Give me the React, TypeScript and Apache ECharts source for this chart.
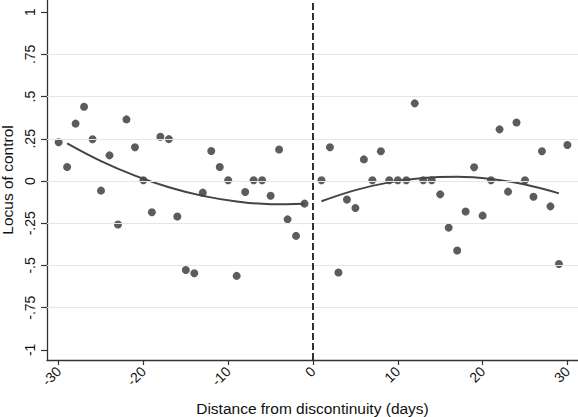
import React, { useEffect, useRef } from "react";
import * as echarts from "echarts";

const leftDays = [-30, -29, -28, -27, -26, -25, -24, -23, -22, -21, -20, -19, -18, -17, -16, -15, -14, -13, -12, -11, -10, -9, -8, -7, -6, -5, -4, -3, -2, -1];
const leftValues = [0.23, 0.083, 0.34, 0.44, 0.247, -0.057, 0.152, -0.258, 0.365, 0.2, 0.005, -0.185, 0.262, 0.248, -0.21, -0.527, -0.546, -0.069, 0.178, 0.083, 0.005, -0.562, -0.065, 0.005, 0.005, -0.087, 0.187, -0.227, -0.325, -0.134];
const rightDays = [1, 2, 3, 4, 5, 6, 7, 8, 9, 10, 11, 12, 13, 14, 15, 16, 17, 18, 19, 20, 21, 22, 23, 24, 25, 26, 27, 28, 29, 30];
const rightValues = [0.005, 0.2, -0.542, -0.11, -0.16, 0.128, 0.005, 0.176, 0.005, 0.005, 0.005, 0.46, 0.005, 0.005, -0.079, -0.276, -0.412, -0.181, 0.081, -0.205, 0.005, 0.306, -0.063, 0.347, 0.005, -0.093, 0.176, -0.15, -0.491, 0.213];

const fitLeftDays = [-29, -25, -21, -17, -13, -9, -5, -1];
const fitLeftValues = [0.223, 0.118, 0.032, -0.037, -0.088, -0.121, -0.137, -0.134];
const fitRightDays = [1, 5, 9, 13, 17, 21, 25, 29];
const fitRightValues = [-0.12, -0.054, -0.008, 0.018, 0.025, 0.012, -0.021, -0.073];

const xTicks = [-30, -20, -10, 0, 10, 20, 30];
const yTicks = [-1, -0.75, -0.5, -0.25, 0, 0.25, 0.5, 0.75, 1];
const yGridValues = [-0.75, -0.5, -0.25, 0, 0.25, 0.5, 0.75];

const fmtY = (v: number) => {
  if (v === 0) return "0";
  const s = String(v);
  return s.replace("0.", ".");
};

export default function App() {
  const ref = useRef<HTMLDivElement>(null);
  useEffect(() => {
    if (!ref.current) return;
    const chart = echarts.init(ref.current, undefined, { renderer: "svg" });
    const font = "'Liberation Sans', Arial, sans-serif";
    const axisColor = "#333";
    chart.setOption({
      animation: false,
      backgroundColor: "#fff",
      grid: { left: 47, right: 0, top: 0, bottom: 57, containLabel: false, outerBoundsMode: "none" },
      xAxis: {
        type: "value",
        min: -31.37,
        max: 31.25,
        name: "Distance from discontinuity (days)",
        nameLocation: "middle",
        nameGap: 40,
        nameTextStyle: { fontFamily: font, fontSize: 15.5, color: "#111" },
        axisLine: { show: true, onZero: false, lineStyle: { color: axisColor, width: 1.3 } },
        axisTick: { show: true, length: 5, customValues: xTicks, lineStyle: { color: axisColor, width: 1.2 } },
        axisLabel: {
          customValues: xTicks,
          rotate: 45,
          margin: 9,
          fontFamily: font,
          fontSize: 14,
          color: "#111",
        },
        splitLine: { show: false },
      },
      yAxis: {
        type: "value",
        min: -1.06,
        max: 1.072,
        name: "Locus of control",
        nameLocation: "middle",
        nameGap: 30,
        nameTextStyle: { fontFamily: font, fontSize: 15.5, color: "#111" },
        axisLine: { show: true, onZero: false, lineStyle: { color: axisColor, width: 1.3 } },
        axisTick: { show: true, length: 6, customValues: yTicks, lineStyle: { color: axisColor, width: 1.2 } },
        axisLabel: {
          customValues: yTicks,
          rotate: 90,
          margin: 10,
          align: "center",
          verticalAlign: "bottom",
          fontFamily: font,
          fontSize: 14,
          color: "#111",
          formatter: (v: number) => fmtY(v),
        },
        splitLine: { show: false },
      },
      series: [
        {
          type: "line",
          data: [],
          silent: true,
          markLine: {
            silent: true,
            symbol: "none",
            label: { show: false },
            lineStyle: { color: "#e6e6e6", width: 1, type: "solid" },
            data: yGridValues.map((v) => ({ yAxis: v })),
          },
        },
        {
          type: "line",
          data: [],
          silent: true,
          z: 5,
          markLine: {
            silent: true,
            symbol: "none",
            label: { show: false },
            lineStyle: { color: "#000", width: 1.6, type: [7, 3] },
            data: [{ xAxis: 0 }],
          },
        },
        {
          type: "scatter",
          symbol: "circle",
          symbolSize: 8,
          itemStyle: { color: "#333" },
          data: leftDays.map((d, i) => [d, leftValues[i]]),
          z: 3,
        },
        {
          type: "scatter",
          symbol: "circle",
          symbolSize: 8,
          itemStyle: { color: "#333" },
          data: rightDays.map((d, i) => [d, rightValues[i]]),
          z: 3,
        },
        {
          type: "line",
          smooth: 0.4,
          showSymbol: false,
          lineStyle: { color: "#444", width: 2 },
          data: fitLeftDays.map((d, i) => [d, fitLeftValues[i]]),
          z: 4,
        },
        {
          type: "line",
          smooth: 0.4,
          showSymbol: false,
          lineStyle: { color: "#444", width: 2 },
          data: fitRightDays.map((d, i) => [d, fitRightValues[i]]),
          z: 4,
        },
      ],
    });
    return () => chart.dispose();
  }, []);
  return (
    <div
      ref={ref}
      style={{ position: "fixed", left: 0, top: 0, width: 578, height: 417, background: "#fff" }}
    />
  );
}
